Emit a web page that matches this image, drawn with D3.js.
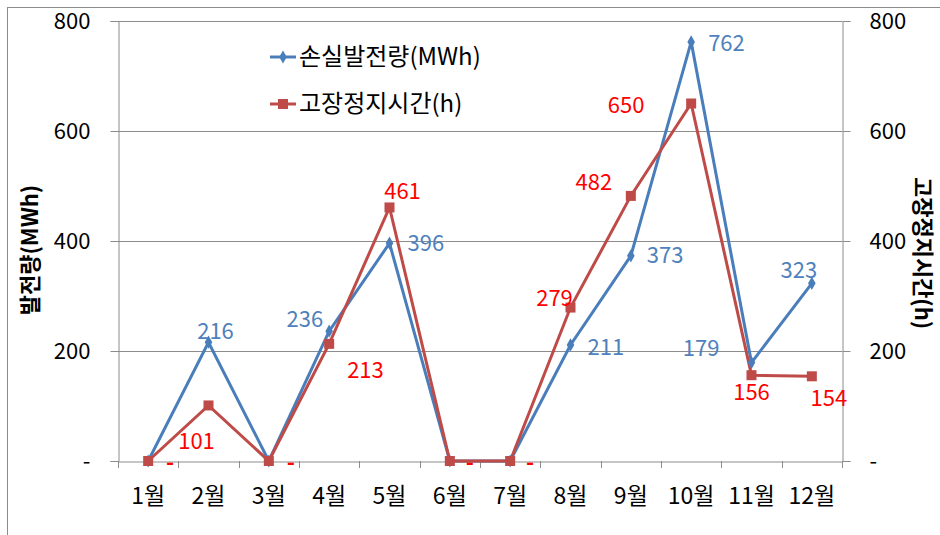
<!DOCTYPE html>
<html><head><meta charset="utf-8">
<script src="https://cdn.jsdelivr.net/npm/d3@7"></script>
<style>
html,body{margin:0;padding:0;background:#fff;}
text{font-family:"Noto Sans CJK KR","Noto Sans",sans-serif;}
</style></head>
<body><svg id="c" width="940" height="535"></svg>
<script>
const months = ["1월","2월","3월","4월","5월","6월","7월","8월","9월","10월","11월","12월"];
const lossMWh = [0,216,0,236,396,0,0,211,373,762,179,323];
const downtimeH = [0,101,0,213,461,0,0,279,482,650,156,154];
const yTicks = [0,200,400,600,800];
const seriesNames = ["손실발전량(MWh)","고장정지시간(h)"];
const leftTitle = "발전량(MWh)";
const rightTitle = "고장정지시간(h)";
// label offsets (dx, dy from point, anchor)
const blueOff = [null,[7,-3,"middle"],null,[-6,-4,"end"],[18,8,"start"],null,null,[17,10,"start"],[16,7,"start"],[17,9,"start"],[-32,-7,"end"],[-13,-5,"middle"]];
const redOff = [[22,9,"middle"],[-12,44,"middle"],[22,9,"middle"],[18,34,"start"],[13,-8,"middle"],[20,9,"middle"],[20,9,"middle"],[-16,-2,"middle"],[-37,-6,"middle"],[-65,9,"middle"],[0,25,"middle"],[17,30,"middle"]];

const svg = d3.select("#c");
const L = 118, R = 842, T = 21, B = 461;
const blue = "#4A7EBB", red = "#BE4B48";
svg.append("rect").attr("x",7.5).attr("y",7.5).attr("width",940).attr("height",540)
  .attr("fill","none").attr("stroke","#8c8c8c").attr("stroke-width",1);

const x = d3.scaleBand().domain(months).range([L,R]).padding(0);
const y = d3.scaleLinear().domain([0,800]).range([B,T]);
const y2 = d3.scaleLinear().domain([0,800]).range([B,T]);

svg.append("g").selectAll("line").data(yTicks.filter(d=>d>0)).join("line")
  .attr("x1",L).attr("x2",R).attr("y1",d=>Math.round(y(d))+0.5).attr("y2",d=>Math.round(y(d))+0.5)
  .attr("stroke","#8c8c8c").attr("stroke-width",1);

const fmt = d => d===0 ? "-" : d3.format("d")(d);
const ga = svg.append("g").attr("transform",`translate(${L+0.5},0)`)
  .call(d3.axisLeft(y).tickValues(yTicks).tickFormat(fmt).tickSize(8).tickPadding(20));
ga.select(".domain").attr("stroke","#8c8c8c");
ga.selectAll(".tick line").attr("stroke","#8c8c8c");
ga.selectAll(".tick text").attr("font-size",22).attr("fill","#000").attr("font-family","Noto Sans CJK KR").attr("dy","0.35em");
const gr = svg.append("g").attr("transform",`translate(${R+0.5},0)`)
  .call(d3.axisRight(y2).tickValues(yTicks).tickFormat(fmt).tickSize(8).tickPadding(19));
gr.select(".domain").attr("stroke","#8c8c8c");
gr.selectAll(".tick line").attr("stroke","#8c8c8c");
gr.selectAll(".tick text").attr("font-size",22).attr("fill","#000").attr("font-family","Noto Sans CJK KR").attr("dy","0.35em");
const gx = svg.append("g").attr("transform",`translate(0,${B+0.5})`)
  .call(d3.axisBottom(x).tickSize(0).tickPadding(26));
gx.select(".domain").attr("stroke","#8c8c8c");
gx.selectAll(".tick text").attr("font-size",23).attr("fill","#000").attr("font-family","Noto Sans CJK KR");
const bounds = months.map((m)=>x(m)).concat([R]);
svg.append("g").selectAll("line").data(bounds).join("line")
  .attr("x1",d=>Math.round(d)+0.5).attr("x2",d=>Math.round(d)+0.5).attr("y1",B).attr("y2",B+7)
  .attr("stroke","#8c8c8c");

svg.append("text").attr("transform",`translate(38,250) rotate(-90)`).attr("text-anchor","middle")
  .attr("font-size",22).attr("font-weight","bold").text(leftTitle);
svg.append("text").attr("transform",`translate(915,253) rotate(90)`).attr("text-anchor","middle")
  .attr("font-size",22).attr("font-weight","bold").text(rightTitle);

const cx = m => x(m) + x.bandwidth()/2;
const line = d3.line().x((d,i)=>cx(months[i])).y(d=>y(d));
const line2 = d3.line().x((d,i)=>cx(months[i])).y(d=>y2(d));

svg.append("path").datum(lossMWh).attr("d",line).attr("fill","none").attr("stroke",blue).attr("stroke-width",3);
svg.append("path").datum(downtimeH).attr("d",line2).attr("fill","none").attr("stroke",red).attr("stroke-width",3);

const diamond = d3.symbol().type(d3.symbolDiamond).size(50);
svg.append("g").selectAll("path").data(lossMWh).join("path")
  .attr("d",diamond).attr("transform",(d,i)=>`translate(${cx(months[i])},${y(d)})`).attr("fill",blue);
svg.append("g").selectAll("rect").data(downtimeH).join("rect")
  .attr("x",(d,i)=>cx(months[i])-5).attr("y",d=>y2(d)-5).attr("width",10).attr("height",10).attr("fill",red);

const blueLab = lossMWh.map((v,i)=>({v,i,o:blueOff[i]})).filter(d=>d.o);
const redLab = downtimeH.map((v,i)=>({v,i,o:redOff[i]})).filter(d=>d.o);
svg.append("g").selectAll("text").data(blueLab).join("text")
  .attr("x",d=>cx(months[d.i])+d.o[0]).attr("y",d=>y(d.v)+d.o[1])
  .attr("text-anchor",d=>d.o[2]).attr("font-size",22).attr("fill","#4F81BD").text(d=>fmt(d.v));
svg.append("g").selectAll("text").data(redLab).join("text")
  .attr("x",d=>cx(months[d.i])+d.o[0]).attr("y",d=>y2(d.v)+d.o[1])
  .attr("text-anchor",d=>d.o[2]).attr("font-size",22).attr("fill","#FF0000")
  .attr("font-weight",d=>d.v===0?"bold":"normal").text(d=>fmt(d.v));

const lg = svg.append("g");
[[blue,57,"d"],[red,104,"s"]].forEach((c,k)=>{
  lg.append("line").attr("x1",270).attr("x2",296).attr("y1",c[1]).attr("y2",c[1]).attr("stroke",c[0]).attr("stroke-width",3);
  if(c[2]==="d") lg.append("path").attr("d",diamond).attr("transform",`translate(283,${c[1]})`).attr("fill",c[0]);
  else lg.append("rect").attr("x",278).attr("y",c[1]-5).attr("width",10).attr("height",10).attr("fill",c[0]);
  lg.append("text").attr("x",299).attr("y",c[1]+8).attr("font-size",24).attr("fill","#000").text(seriesNames[k]);
});
</script></body></html>
